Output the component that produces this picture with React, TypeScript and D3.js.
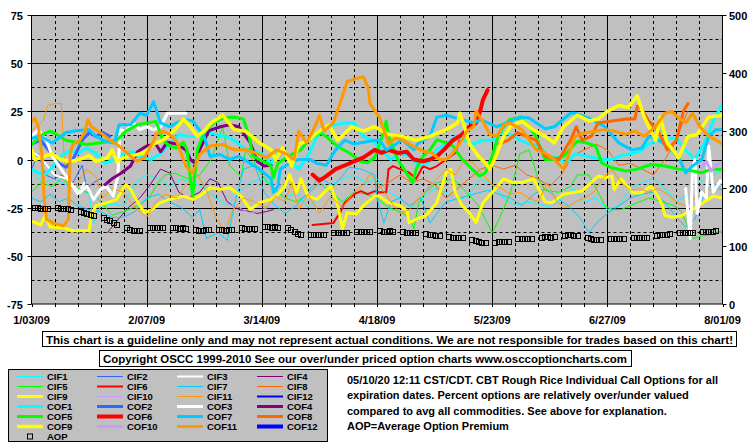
import React from "react";
import * as d3 from "d3";

type Pt = [number, number | null];

// ---- axis labels ----
const xTickWeeks = [0, 5, 10, 15, 20, 25, 30];
const xTickLabels = ["1/03/09", "2/07/09", "3/14/09", "4/18/09", "5/23/09", "6/27/09", "8/01/09"];
const leftTicks = [-75, -50, -25, 0, 25, 50, 75];
const rightTicks = [0, 100, 200, 300, 400, 500];

// ---- series (x = weeks since 1/03/09, y = percent over/under) ----
const cif1: Pt[] = [[0,-7],[0.5,-12],[1,-10],[1.5,-13],[2,-15],[2.5,-18],[2.7,-33],[3,-24],[3.5,-23],[4,-24],[4.5,-12],[5,-8],[5.5,-10],[6,-14],[6.5,-10],[7,-12],[7.5,-15],[8,-20],[8.5,-24],[9,-17],[9.5,-12],[10,-10],[10.5,-14],[11,-20],[11.5,-17],[12,-25],[12.5,-20],[13,-13],[13.5,-10],[14,-8],[14.5,-12],[15,-10],[15.5,-17],[16,-20],[16.5,-25],[17,-20],[17.5,-15],[18,-17],[18.5,-22],[19,-18],[19.5,-10],[20,-13],[20.5,-20],[21,-24],[21.5,-22],[22,-23],[22.5,-25],[23,-20],[23.5,-15],[24,-22],[24.5,-20],[25,-26],[25.5,-24],[26,-15],[26.5,-12],[27,-10],[27.5,-15],[28,-22],[28.5,-18],[29,-12],[29.5,-8],[30,-6]];
const cif2: Pt[] = [[0,-5],[0.3,3],[0.6,-8],[1,-10],[1.3,-8],[1.8,-12],[2.2,-3],[2.4,-15],[2.7,-12],[3,-10]];
const cif3: Pt[] = [[0,4],[0.3,2],[0.6,-2],[1,-8],[1.5,-10],[2,-18],[2.3,-12]];
const cif4: Pt[] = [[3.3,-38],[3.7,-32],[4.2,-25],[4.7,-20],[5.1,-14],[5.6,-5],[6,-7],[6.4,-17],[6.8,-20],[7.3,-17],[7.75,-10],[8.1,-12],[8.5,-22],[9,-26],[9.5,-27],[9.8,-28],[10.2,-27],[10.5,-26]];
const cif5: Pt[] = [[0,-17],[0.4,-12],[0.9,-14],[1.3,-10],[1.7,-13],[2.2,-16],[2.8,-19],[3.5,-29],[4,-27],[4.6,-24],[5.1,-20],[5.5,-12],[5.8,-8],[6.2,-7],[6.8,-10],[7.3,-8],[7.8,0],[8.3,17],[8.6,-3],[9.1,-9],[9.3,5],[9.6,0],[10,-8],[10.5,-15],[11,-20],[11.5,-22],[12,-18],[12.5,-12],[13,-17],[13.5,-22],[14,-17],[14.5,-18],[15,-20],[15.5,-25],[16,-27],[16.4,-30],[16.6,-36],[16.8,-23],[17.1,-17],[17.6,-12],[18.3,-10],[18.9,-17],[19.4,-24],[19.7,-31],[20,-38],[20.3,-31],[20.8,-17],[21.2,3],[21.6,5],[22,-10],[22.3,-16],[22.9,-17],[23.4,-14],[23.7,-8],[24.2,-8],[24.6,-17],[24.9,-24],[25.2,-26],[25.6,-26],[26.2,-23],[26.8,-20],[27.4,-22],[27.9,-24],[28.2,-27],[28.5,-35],[28.7,-41],[29,-40],[29.5,-39],[30,-37]];
const cif6: Pt[] = [[12.2,-34],[13.1,-33],[13.4,-27.6],[13.6,-22.4],[14,-18],[14.3,-16.4],[14.6,-18],[14.9,-16.4],[15.1,-17],[15.4,-17],[15.5,-5],[15.7,-3.4],[16,-5],[16.4,-6.9],[16.7,-10],[17,-3.4],[17.3,-5],[17.6,-3.4],[18,0],[18.4,3.4],[18.7,13.8]];
const cif7: Pt[] = [[0,-20],[0.4,-22],[0.8,-18],[1.2,-22],[1.6,-20],[2,-24],[2.5,-26],[3,-27],[3.5,-30],[4,-30],[4.5,-27],[5,-20],[5.5,-18],[6,-22],[6.5,-25],[7,-30],[7.3,-26],[7.6,-41],[8.1,-38],[8.5,-42],[8.8,-24],[9.2,-5],[9.7,-3],[10.1,-17],[10.6,-24],[11,-28],[11.5,-24],[12,-17],[12.5,-9],[13.1,-14],[13.8,-4],[14.3,-5],[14.9,-8],[15,-20],[15.3,-33],[15.6,-22],[16,-20],[16.4,-24],[16.9,-20],[17.3,-33],[17.6,-28],[18,-22],[18.6,-20],[19.2,-18],[19.8,-16],[20.3,-18],[20.8,-20],[21.3,-24],[21.8,-18],[22.3,-15],[22.8,-20],[23.3,-24],[23.8,-30],[24.2,-38],[24.6,-32],[25,-28],[25.5,-24],[26,-20],[26.5,-18],[27,-17],[27.5,-22],[28,-30],[28.4,-35],[28.8,-31],[29.2,-18],[29.6,-12],[30,-16]];
const cif8: Pt[] = [[15,-15],[15.5,-12],[16,-8],[16.5,-12],[17,-10],[17.5,-13],[18,-20],[18.5,-15],[19,-10],[19.5,-5],[20,-3],[20.5,-5],[21,-3],[21.5,-8],[22,-10],[22.5,-14],[23,-8],[23.5,2],[24,5],[24.5,8],[25,5],[25.5,-3],[26,-2],[26.5,-5],[27,-8],[27.5,0],[28,10],[28.3,20],[28.5,25]];
const cif9: Pt[] = [[0,-32],[0.4,-34],[0.6,-29],[0.8,-35],[1.4,-35.5],[1.8,-37],[2.5,-37],[2.6,-29],[2.8,-24],[3.3,-22.4],[3.7,-20.7],[4.1,-13],[4.3,-15.5],[4.6,-22],[4.9,-27.6],[5.15,-26.7],[5.6,-22.4],[6,-20.7],[6.6,-19],[7,-20.7],[7.3,-19],[7.75,-14.7],[8.2,-15.5],[8.6,-14.7],[9.1,-19],[9.5,-26],[9.9,-22.4],[10.4,-20.7],[10.7,-18],[11,-13.8],[11.2,-7.8],[11.5,-17.2],[11.7,-10],[12,-19],[12.4,-20.7],[12.7,-17.2],[13,-13.8],[13.3,-24],[13.5,-36],[13.7,-27.6],[14.1,-28.4],[14.4,-24],[14.9,-19],[15.1,-19],[15.5,-22.4],[16,-24],[16.3,-26.7],[16.4,-32.8],[16.7,-31],[17.1,-29.3],[17.6,-22.4],[18,-7],[18.2,-5],[18.4,-17.2],[18.7,-24],[19,-27.6],[19.3,-32.8],[19.6,-22.4],[20,-17.2],[20.5,-10],[20.9,-12],[21.3,-12],[21.8,-10],[22.3,-22],[22.6,-22.4],[23.1,-18],[23.5,-17.2],[23.9,-16.4],[24.3,-12],[24.6,-8.6],[24.9,-9.5],[25.2,-8.6],[25.3,-15.5],[25.6,-10],[26.1,-17.2],[26.5,-17.2],[26.9,-13.8],[27.2,-19],[27.4,-24],[27.5,-29],[27.8,-30],[28.2,-29.3],[28.7,-26],[29.2,-22],[29.6,-19],[30,-20]];
const cif10: Pt[] = [[8.5,-23],[9,-25],[9.5,-28],[10,-26],[10.5,-24]];
const cif11: Pt[] = [[0,15],[0.3,18],[0.5,20],[0.7,28],[1,29],[1.3,29],[1.4,5],[1.5,-10],[1.7,-15],[2,-12],[2.4,-5],[2.8,-9],[3.1,-20],[3.5,-15],[4,-17],[4.5,-25],[5,-30],[5.4,-22],[5.8,-18],[6.3,-20],[6.8,-12],[7.2,-8],[7.6,-16],[8,-30],[8.4,-38],[8.7,-27],[9.2,-20],[9.7,-22],[10.2,-25],[10.6,-19],[11,-22],[11.3,-12],[11.6,-26],[12,-18],[12.5,-28],[13,-19],[13.5,-25],[14,-17],[14.5,-12],[14.7,-7],[15.2,-15],[15.6,-22],[16,-28],[16.4,-26],[16.8,-20],[17.2,-15],[17.6,-10],[18,-5],[18.4,-8],[18.8,0],[19.2,-2],[19.6,-8],[20,-13],[20.4,-15],[20.8,-18],[21.2,-17],[21.6,-20],[22,-22],[22.4,-12],[22.8,-22],[23.2,-25],[23.6,-22],[24,-20],[24.4,-17],[24.8,-10],[25.2,-5],[25.6,-12],[26,-16],[26.4,-15],[26.8,-17],[27.2,-15],[27.6,-18],[28,-22],[28.4,-24],[28.8,-20],[29.2,-17],[29.6,-15],[30,-16]];
const cif12: Pt[] = [];
const cof1: Pt[] = [[0,-5],[0.3,-7],[0.6,-7.8],[0.9,-4],[1.3,2],[1.7,5],[2,3],[2.4,6],[2.8,3],[3.2,-2],[3.6,0],[4,3],[4.4,4],[4.8,1],[5.2,0],[5.6,3],[6,8],[6.4,13],[6.8,12],[7.2,12],[7.6,14],[8,13],[8.4,12],[8.8,10],[9.2,6],[9.6,5],[10,3],[10.4,-2],[10.8,5],[11.2,0],[11.6,-5],[12,2],[12.4,12],[12.8,17],[13.2,18],[13.6,19],[14,19],[14.4,12],[14.8,10],[15.2,5],[15.6,0],[16,3],[16.4,2],[16.8,-3],[17.2,-2],[17.6,5],[18,8],[18.4,12],[18.8,10],[19.2,8],[19.6,10],[20,10],[20.4,14],[20.8,13],[21.2,10],[21.6,8],[22,7],[22.4,2],[22.8,1],[23.2,-2],[23.6,3],[24,2],[24.4,1],[24.8,0],[25.2,0],[25.6,2],[26,3],[26.4,4],[26.8,8],[27.2,10],[27.6,11],[28,11],[28.4,5],[28.8,0],[29.2,8],[29.6,20],[30,29]];
const cof2: Pt[] = [[0,8],[0.4,10],[0.8,4],[1.2,-2],[1.5,-4],[1.8,0],[2.2,10],[2.5,14],[2.8,12],[3.1,14],[3.4,12]];
const cof3: Pt[] = [[0,12],[0.3,15.5],[0.65,10],[0.9,1.7],[1.2,-3.4],[1.5,-8.6],[1.8,-13.8],[2.1,-17.2],[2.4,-13.8],[2.7,-20.7],[3,-15.5],[3.25,-13.8],[3.55,-19],[3.75,-8.6],[3.85,15.5],[4.1,14.7],[4.4,19],[4.7,15.5],[5,17],[5.3,15.5],[5.6,17],[5.9,24],[6.3,24],[6.7,24],[6.8,null],[28.4,-15],[28.6,-41],[28.7,-5],[28.8,0],[28.9,-28],[29.1,-17],[29.3,-20],[29.4,7],[29.6,-17],[29.9,-11],[30,-12]];
const cof4: Pt[] = [[3.2,-13],[3.5,-10],[3.9,-7],[4.3,-3.4],[4.6,4],[5,7],[5.4,8],[5.6,4],[5.9,9],[6.3,8],[6.7,5],[6.9,0],[7.1,-2],[7.3,5],[7.7,15],[8.2,17],[8.6,18],[9,17],[9.5,8.6],[9.8,-1],[10.1,-3.4],[10.4,-3]];
const cof5: Pt[] = [[0,7.8],[0.5,13],[0.8,14.7],[1.1,13],[1.5,10],[2.4,7.8],[3.2,9],[3.7,10],[4.1,14.7],[4.6,18],[5.4,19.8],[5.7,10],[6,7],[6.3,6],[6.6,9],[6.75,5],[6.9,-10],[7,-19],[7.2,5],[7.5,14],[7.9,19],[8.3,21.5],[8.8,22],[9.2,21],[9.45,12],[9.6,2],[9.9,0],[10.2,-1.7],[10.4,-3.4],[10.5,-9.5],[10.7,-2],[11.2,2],[11.7,5],[12.1,11],[12.5,13.8],[12.8,12],[13.1,8.6],[13.4,6],[13.8,3.4],[14.3,-1],[14.6,-1.7],[14.9,1],[15.2,11],[15.4,20],[15.5,12],[15.9,0],[16.55,-12],[16.7,-5],[17,1.7],[17.3,5],[17.6,10.3],[18,8.6],[18.3,7],[18.7,0],[19,-3.4],[19.45,-8.6],[19.7,-7],[20,1.7],[20.3,13.8],[20.75,20.7],[21,21.5],[21.3,20.7],[21.6,17.2],[21.9,12],[22.3,0],[22.7,0],[23.1,1.7],[23.7,9.5],[24.1,8.6],[24.5,6.9],[24.75,-1.7],[25.2,-4.3],[25.8,-6],[26.3,-5],[26.9,-2.6],[27.5,-3.4],[28.1,-5],[28.7,-6],[29.1,-6.9],[29.5,-5],[30,-5]];
const cof6: Pt[] = [[12.2,-7.8],[12.5,-11],[12.8,-8.6],[13.2,-5],[13.7,-2.6],[14,-1],[14.4,1],[14.9,5],[15.2,3.4],[15.5,5],[15.9,3.4],[16.3,4],[16.6,0],[17,-0.9],[17.3,0],[17.6,1.7],[17.9,5],[18.3,10],[18.7,13],[19,17],[19.3,19],[19.5,26],[19.6,31],[19.8,36]];
const cof7: Pt[] = [[0,11],[0.4,12],[0.9,8.6],[1.5,14],[2,15],[2.5,15.5],[2.8,12],[3.2,9.5],[3.6,8.6],[3.8,18],[4.3,18],[4.7,24],[5,23],[5.3,30],[5.6,19],[6,17],[6.3,19],[6.7,20.7],[7,20],[7.5,12],[7.75,1.7],[8.2,2.6],[8.6,0],[9,1.7],[9.5,-2],[9.9,-5],[10.4,-10],[10.5,-17],[10.7,-14],[10.8,-5],[11.2,-2],[11.6,0],[12.1,0],[12.4,-2],[12.8,-3],[13.2,5],[13.6,10],[14,8],[14.67,9.5],[15.1,10.3],[15.4,5],[15.7,7],[16.1,10.3],[16.6,5],[16.8,8.6],[17.3,12],[17.6,22],[18,23],[18.3,22],[18.7,20.7],[19.2,19],[19.5,20.7],[20.2,17],[20.8,19.8],[21.2,22],[21.6,21.5],[22.3,16],[22.7,17],[23.4,24],[23.6,24],[24.2,21.5],[24.9,17],[25.5,8.6],[26.05,5],[26.5,6],[26.8,12],[27.2,10.3],[27.6,7],[28.1,1],[28.4,-7],[28.7,-3.4],[29.1,0],[29.4,12],[29.7,15.5],[30,15.5]];
const cof8: Pt[] = [[20.3,8],[20.7,10],[21.1,14],[21.5,12],[21.9,10],[22.3,1.7],[22.9,0],[23.4,10],[23.65,17],[23.9,10],[24.3,12],[24.6,19],[25.2,20],[25.8,21],[26.2,21],[26.3,27.6],[26.5,26],[26.8,20],[27.2,15],[27.6,5],[28,10],[28.3,25],[28.5,29]];
const cof9: Pt[] = [[0,5],[0.15,0],[0.4,1],[0.9,3],[1.25,0],[1.7,-1],[2.1,0],[2.5,2],[2.8,-1],[3.3,1],[3.5,5],[3.7,-1],[4,1],[4.4,2],[4.9,3.5],[5.3,8],[5.7,10],[6.2,15],[6.6,21],[6.9,17],[7.2,12],[7.5,14.7],[7.8,19],[8.3,23],[8.8,15.5],[9.3,14.7],[9.9,8.6],[10.4,5],[10.6,0],[10.9,6],[11.3,-3.4],[11.6,7.8],[12,10],[12.5,14.7],[12.9,18],[13.3,10],[13.9,17],[14.4,14.7],[14.9,17],[15.5,13],[16.1,12],[16.7,10],[17.3,12],[18,15.5],[18.5,19],[18.6,24],[18.8,17],[19,8.6],[19.4,1.7],[19.7,-1.7],[19.9,-5],[20.2,3],[20.5,12],[20.8,17],[21.3,20],[21.7,16],[22.3,12],[22.7,8.6],[23.1,17],[23.7,23],[24.2,20],[24.6,21],[25,25],[25.5,28],[25.9,27],[26.3,33],[26.6,22],[27.1,10],[27.3,22],[27.6,8.6],[28.1,1],[28.5,12],[28.9,13],[29.4,22],[30,23]];
const cof10: Pt[] = [[29.1,-4],[29.3,-1],[29.5,-6],[29.7,-3],[30,-2]];
const cof11: Pt[] = [[0,19.8],[0.15,21.5],[0.3,17],[0.45,2],[0.55,-20],[0.65,-31],[0.95,-33],[1.4,-34.5],[1.6,-31],[1.68,3.4],[1.8,7.8],[2.1,10],[2.3,14],[2.45,20.7],[2.6,17],[2.8,15.5],[3.1,13],[3.4,10],[3.7,8],[4,5],[4.3,1.7],[4.6,-0.9],[4.9,1],[5.3,9.5],[5.4,13],[5.7,14.7],[6,13],[6.3,9.5],[6.7,-3.4],[7,-7],[7.3,2.6],[7.75,7],[8.3,7.8],[8.8,5],[9.35,5],[9.9,2.6],[10.2,1],[10.65,5],[11.1,2.6],[11.4,0],[11.6,14.7],[11.95,8.6],[12.3,17],[12.5,23],[12.7,14.7],[13.1,19],[13.3,26],[13.55,34.5],[13.7,40.5],[14.1,42],[14.4,43],[14.6,38],[14.7,29],[15.1,22],[15.4,12],[15.5,7.8],[15.8,11.2],[16.1,10.3],[16.55,7],[17,4.3],[17.4,3.4],[17.7,0],[18,0],[18.3,3.4],[18.6,8.6],[18.9,14.7],[19.2,17.2],[19.3,25],[19.6,19.8],[19.9,13],[20.2,12],[20.5,18],[20.75,19],[21.05,17.2],[21.3,15.5],[21.6,10.3],[21.9,5.2],[22.3,3.4],[22.7,0],[23.1,-5],[23.6,12],[24,13.8],[24.45,14.7],[24.9,15.5],[25.3,14.7],[25.8,13],[26.2,14.7],[26.6,12],[27.1,17.2],[27.5,24],[27.8,25],[28.1,21.5],[28.4,19],[28.7,24],[29,17.2],[29.4,12],[29.7,10.3],[30,8]];
const cof12: Pt[] = [];

// Average option premium (right axis), five trading days per week
const aopWeeks: number[][] = [
  [166,166,165,165,164],[166,165,165,164,162],[160,158,156,154,152],[149,146,143,140,137],
  [131,128,127,126,127],[131,131,132,132,131],[131,131,130,131,130],[128,127,127,128,128],
  [128,128,127,128,128],[131,130,129,130,130],[133,133,132,133,132],[131,128,124,121,120],
  [120,119,119,119,120],[123,122,122,123,122],[124,125,124,125,124],[126,125,125,126,125],
  [124,123,123,122,122],[121,120,119,118,118],[116,115,115,114,115],[111,109,107,106,106],
  [106,107,107,108,108],[112,112,112,113,112],[115,116,116,115,116],[118,119,119,118,117],
  [114,112,111,111,111],[112,113,112,113,112],[114,114,115,114,115],[118,119,119,120,121],
  [122,123,123,123,122],[124,125,125,125,126]
];

const seriesDefs = [
  { name: "CIF1", data: cif1, color: "#00FFFF", width: 1 },
  { name: "CIF2", data: cif2, color: "#3366FF", width: 1 },
  { name: "CIF3", data: cif3, color: "#FFFFFF", width: 2 },
  { name: "CIF4", data: cif4, color: "#800080", width: 1 },
  { name: "CIF5", data: cif5, color: "#00FF00", width: 1 },
  { name: "CIF6", data: cif6, color: "#FF0000", width: 2 },
  { name: "CIF7", data: cif7, color: "#00CCFF", width: 1 },
  { name: "CIF8", data: cif8, color: "#FF6600", width: 1 },
  { name: "CIF9", data: cif9, color: "#FFFF00", width: 3 },
  { name: "CIF10", data: cif10, color: "#CC99FF", width: 1 },
  { name: "CIF11", data: cif11, color: "#FF9900", width: 1 },
  { name: "CIF12", data: cif12, color: "#0000FF", width: 2 },
  { name: "COF1", data: cof1, color: "#00FFFF", width: 3 },
  { name: "COF2", data: cof2, color: "#3366FF", width: 3 },
  { name: "COF3", data: cof3, color: "#FFFFFF", width: 3 },
  { name: "COF4", data: cof4, color: "#800080", width: 3 },
  { name: "COF5", data: cof5, color: "#00FF00", width: 3 },
  { name: "COF6", data: cof6, color: "#FF0000", width: 4 },
  { name: "COF7", data: cof7, color: "#00CCFF", width: 3 },
  { name: "COF8", data: cof8, color: "#FF6600", width: 3 },
  { name: "COF9", data: cof9, color: "#FFFF00", width: 3.5 },
  { name: "COF10", data: cof10, color: "#CC99FF", width: 3 },
  { name: "COF11", data: cof11, color: "#FF9900", width: 3 },
  { name: "COF12", data: cof12, color: "#0000FF", width: 4 },
];

const disclaimer = "This chart is a guideline only and may not represent actual conditions. We are not responsible for trades based on this chart!";
const copyright = "Copyright OSCC 1999-2010 See our over/under priced option charts www.osccoptioncharts.com";
const noteLines = [
  "05/10/20 12:11 CST/CDT. CBT Rough Rice Individual Call Options for all",
  "expiration dates. Percent options are relatively over/under valued",
  "compared to avg all commodities. See above for explanation.",
  "AOP=Average Option Premium",
];

const FONT = "'Liberation Sans', Arial, sans-serif";

export default function App() {
  const W = 755, H = 446;
  const L = 31.5, R = 722.5, T = 15, B = 304;
  const x = d3.scaleLinear().domain([0, 30]).range([L, R]);
  const yL = d3.scaleLinear().domain([-75, 75]).range([B, T]);
  const yR = d3.scaleLinear().domain([0, 500]).range([B, T]);
  const px = (v: number) => Math.round(v) + 0.5;

  const line = d3.line<Pt>()
    .defined(d => d[1] != null)
    .x(d => x(d[0]))
    .y(d => yL(d[1] as number));

  const weeks = d3.range(0, 31);
  const solidH = [-50, -25, 0, 25, 50];
  const dashH = [-62.5, -37.5, -12.5, 12.5, 37.5, 62.5];

  const aopPts: { w: number; v: number }[] = [];
  aopWeeks.forEach((wk, wi) => wk.forEach((v, di) => aopPts.push({ w: wi + (1 + di) / 7, v })));

  const legCols = [17, 97, 177, 257];
  const legRow0 = 376.5;

  return (
    <svg width={W} height={H} style={{ position: "absolute", left: 0, top: 0, background: "#fff" }} fontFamily={FONT}>
      <defs>
        <clipPath id="plotclip"><rect x={L} y={T} width={R - L} height={B - T} /></clipPath>
      </defs>
      <rect x={0} y={0} width={W} height={H} fill="#fff" />
      <rect x={L} y={T} width={R - L} height={B - T} fill="#C0C0C0" />
      {/* grid */}
      {dashH.map(v => (
        <line key={"dh" + v} x1={L} x2={R} y1={px(yL(v))} y2={px(yL(v))} stroke="#000" strokeDasharray="3,3" />
      ))}
      {solidH.map(v => (
        <line key={"sh" + v} x1={L} x2={R} y1={px(yL(v))} y2={px(yL(v))} stroke="#000" />
      ))}
      {weeks.filter(w => w > 0 && w < 30).map(w => (
        <line key={"vw" + w} x1={px(x(w))} x2={px(x(w))} y1={T} y2={B} stroke="#000"
          strokeDasharray={w % 5 === 0 ? undefined : "3,3"} />
      ))}
      {/* series */}
      <g clipPath="url(#plotclip)">
        {seriesDefs.filter(s => s.data.length > 0).map(s => (
          <path key={s.name} d={line(s.data) || ""} fill="none" stroke={s.color}
            strokeWidth={s.width} strokeLinejoin="round" strokeLinecap="round" />
        ))}
        {aopPts.map((p, i) => (
          <rect key={"a" + i} x={Math.round(x(p.w)) - 2.5} y={Math.round(yR(p.v)) - 2.5} width={5} height={5}
            fill="none" stroke="#000" strokeWidth={1} />
        ))}
      </g>
      {/* frame */}
      <rect x={L} y={T + 0.5} width={R - L} height={B - T - 0.5} fill="none" stroke="#000" />
      {/* left axis */}
      {leftTicks.map(v => (
        <g key={"lt" + v}>
          <line x1={L - 4} x2={L} y1={px(yL(v))} y2={px(yL(v))} stroke="#000" />
          <text x={23} y={px(yL(v)) + 4} textAnchor="end" fontSize={11} fontWeight="bold">{v}</text>
        </g>
      ))}
      {/* right axis */}
      {rightTicks.map(v => (
        <g key={"rt" + v}>
          <line x1={R} x2={R + 4} y1={px(yR(v))} y2={px(yR(v))} stroke="#000" />
          <text x={729} y={px(yR(v)) + 4} textAnchor="start" fontSize={11} fontWeight="bold">{v}</text>
        </g>
      ))}
      {/* bottom ticks */}
      {weeks.map(w => (
        <line key={"bt" + w} x1={px(x(w))} x2={px(x(w))} y1={B} y2={B + 3} stroke="#000" />
      ))}
      {xTickWeeks.map((w, i) => (
        <text key={"xl" + w} x={x(w)} y={324} textAnchor="middle" fontSize={11} fontWeight="bold">{xTickLabels[i]}</text>
      ))}
      {/* disclaimer boxes */}
      <rect x={42.5} y={331.5} width={694} height={15} fill="#fff" stroke="#000" />
      <text x={46} y={343.5} fontSize={11} fontWeight="bold" textLength={687} lengthAdjust="spacingAndGlyphs">{disclaimer}</text>
      <rect x={99.5} y={350.5} width={532} height={16} fill="#fff" stroke="#000" />
      <text x={103} y={362.5} fontSize={11} fontWeight="bold" textLength={524} lengthAdjust="spacingAndGlyphs">{copyright}</text>
      {/* legend */}
      <rect x={8.5} y={369.5} width={319} height={72} fill="#C0C0C0" stroke="#000" />
      {seriesDefs.map((s, i) => {
        const col = i % 4, row = Math.floor(i / 4);
        const lx = legCols[col];
        const ly = legRow0 + row * 10;
        return (
          <g key={"lg" + s.name}>
            <line x1={lx} x2={lx + 26} y1={ly} y2={ly} stroke={s.color} strokeWidth={s.width} />
            <text x={lx + 30} y={ly + 3.5} fontSize={9.5} fontWeight="bold">{s.name}</text>
          </g>
        );
      })}
      <rect x={27.5} y={legRow0 + 60 - 2.5} width={5} height={5} fill="none" stroke="#000" />
      <text x={47} y={legRow0 + 63.5} fontSize={9.5} fontWeight="bold">AOP</text>
      {/* note */}
      {noteLines.map((t, i) => (
        <text key={"n" + i} x={347} y={384 + i * 15.3} fontSize={11} fontWeight="bold">{t}</text>
      ))}
    </svg>
  );
}
